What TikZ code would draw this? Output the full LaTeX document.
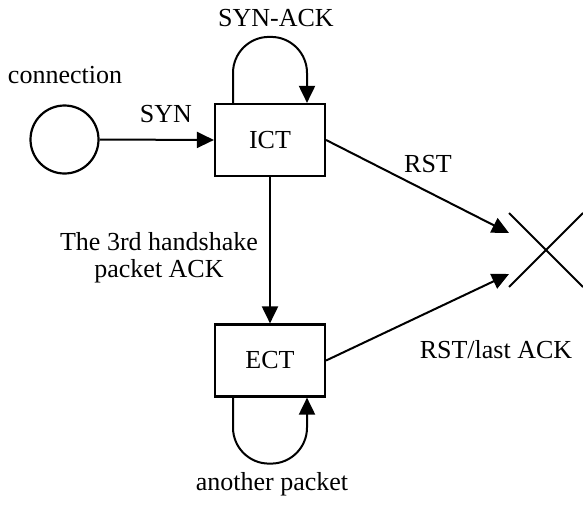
\documentclass[tikz,border=0pt]{standalone}
\usepackage{fontspec}
\setmainfont{Liberation Serif}
\usetikzlibrary{arrows.meta}
\begin{document}
\begin{tikzpicture}[x=1pt,y=-1pt,
  every node/.style={font=\fontsize{26}{30}\selectfont},
  wire/.style={line width=2pt},
  arr/.style={wire,-{Triangle[length=17pt,width=16pt]}},
  statebox/.style={draw,line width=2.2pt,minimum width=110pt,minimum height=72pt,inner sep=0pt},
  startcirc/.style={draw,circle,line width=2.2pt,minimum size=68pt,inner sep=0pt},
  lbl/.style={inner sep=0pt,align=center}]
\useasboundingbox (0,0) rectangle (583,504);

% states
\node[startcirc] (start) at (64.5,139.5) {};
\node[statebox] (ict) at (270,140) {ICT};
\node[statebox] (ect) at (270,360.5) {ECT};

% terminal cross
\coordinate (x) at (546,250);
\coordinate (xa) at (509,213);
\coordinate (xb) at (583,287);
\coordinate (xc) at (509,287);
\coordinate (xd) at (583,213);
\draw[wire] (xa) -- (x) -- (xb);
\draw[wire] (xc) -- (x) -- (xd);
\coordinate (ticttip) at (509,233);
\coordinate (tecttip) at (509,274);

% transitions
\draw[arr] (start.east) -- (ict.west);
\draw[arr] (ict.south) -- (ect.north);
\draw[arr] (ict.east) -- (ticttip);
\draw[arr] (ect.east) -- (tecttip);

% self loops
\draw[arr,rounded corners=36pt] ([xshift=-37pt]ict.north) -- ++(0,-66) -- ++(74,0) -- ([xshift=37pt]ict.north);
\draw[arr,rounded corners=36pt] ([xshift=-37pt]ect.south) -- ++(0,66) -- ++(74,0) -- ([xshift=37pt]ect.south);

% labels
\node[lbl] (lconn) at (65,75) {connection};
\node[lbl] (lsyn) at (166,114) {SYN};
\node[lbl] (lsynack) at (276,18) {SYN-ACK};
\node[lbl] (lrst) at (428,164) {RST};
\node[lbl] (lrstlast) at (496,350) {RST/last ACK};
\node[lbl] (lhand) at (159,258) {The 3rd handshake\\[-3pt]packet ACK};
\node[lbl] (lanother) at (272,484) {another packet};
\end{tikzpicture}
\end{document}
